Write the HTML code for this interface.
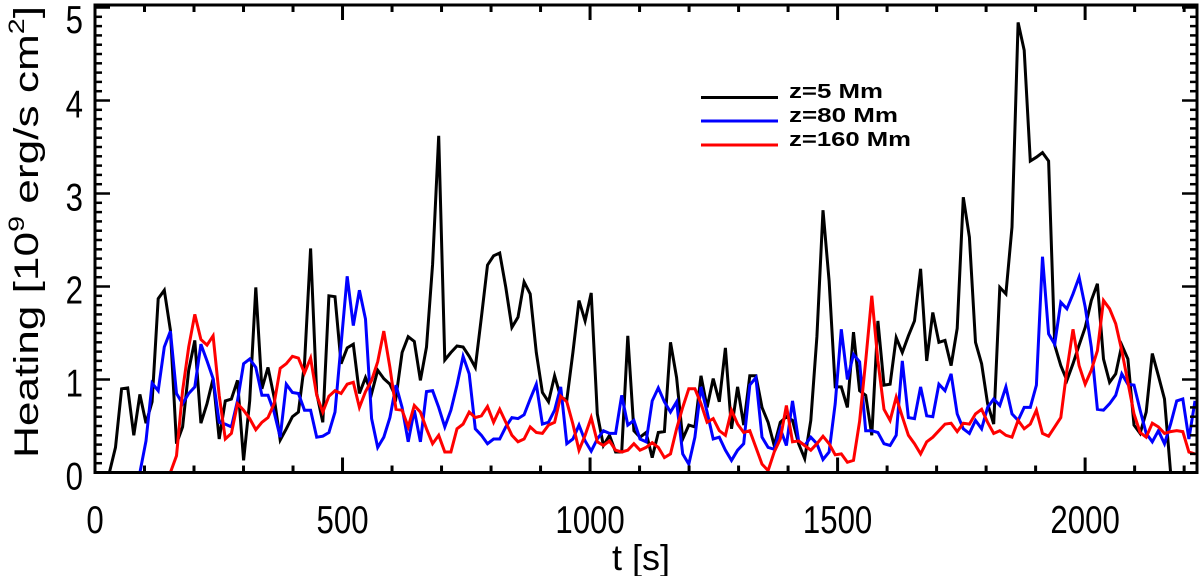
<!DOCTYPE html>
<html><head><meta charset="utf-8"><style>
html,body{margin:0;padding:0;background:#fff;}
svg{display:block;font-family:"Liberation Sans",sans-serif;}
</style></head><body>
<svg id="chart" width="1200" height="576" viewBox="0 0 1200 576" xmlns="http://www.w3.org/2000/svg">
<defs><clipPath id="plotclip"><rect x="95" y="5" width="1102" height="468"/></clipPath></defs>
<g id="series" clip-path="url(#plotclip)"></g>
<rect x="95" y="5" width="1102" height="467.5" fill="none" stroke="#000" stroke-width="3"/>
<g id="ticks"></g>
<g id="labels"></g>
<text x="641" y="570" font-size="36" text-anchor="middle">t  [s]</text>
<text transform="translate(38,232) rotate(-90)" font-size="34" text-anchor="middle" textLength="452" lengthAdjust="spacingAndGlyphs">Heating  [10<tspan font-size="22" dy="-14">9</tspan><tspan dy="14"> erg/s cm</tspan><tspan font-size="22" dy="-14">2</tspan><tspan dy="14">]</tspan></text>
<g>
<g><line x1="701" y1="97.5" x2="778" y2="97.5" stroke="#000" stroke-width="3"/><text x="789" y="98" font-size="20" font-weight="bold" textLength="94" lengthAdjust="spacingAndGlyphs">z=5  Mm</text></g>
<g><line x1="701" y1="121" x2="778" y2="121" stroke="#0000ff" stroke-width="3"/><text x="789" y="122" font-size="20" font-weight="bold" textLength="109" lengthAdjust="spacingAndGlyphs">z=80  Mm</text></g>
<g><line x1="701" y1="145" x2="778" y2="145" stroke="#ff0000" stroke-width="3"/><text x="789" y="146" font-size="20" font-weight="bold" textLength="122" lengthAdjust="spacingAndGlyphs">z=160  Mm</text></g>
</g>
</svg>
<script>
const sampleStart = 4.4;
const sampleStep = 12.32;
const seriesNames = ["z=5 Mm","z=80 Mm","z=160 Mm"];
const heatZ5 = [0,0,0,.27,.90,.91,.40,.84,.53,.76,1.87,1.96,1.53,.31,.49,1.10,1.42,.53,.74,1.01,.36,.77,.79,.99,.13,.77,1.99,.90,1.13,.81,.35,.47,.60,.65,1.17,2.41,.85,.54,1.90,1.89,1.17,1.34,1.38,.85,1.02,.85,1.10,1.01,.95,.81,1.29,1.46,1.41,.99,1.35,2.24,3.62,1.21,1.29,1.36,1.35,1.25,1.13,1.67,2.23,2.33,2.36,1.99,1.56,1.67,2.05,1.92,1.29,.86,.76,1.04,.81,.78,1.29,1.85,1.63,1.93,.63,.29,.40,.22,.22,1.47,.45,.38,.43,.16,.43,.44,1.40,1.02,.36,.51,.49,1.04,.70,1.01,.76,1.34,.47,.92,.51,1.04,1.04,.70,.54,.29,.54,.60,.56,.31,.15,.56,1.46,2.82,2.06,.92,.92,.70,1.51,.88,.83,.40,1.63,.94,.95,1.45,1.29,1.47,1.63,2.19,1.20,1.72,1.40,1.42,1.15,1.55,2.96,2.53,1.40,1.17,.74,.52,1.99,1.92,2.64,4.84,4.54,3.35,3.39,3.44,3.35,1.37,1.15,.99,1.17,1.37,1.56,1.85,2.03,1.22,.97,1.06,1.37,1.22,.51,.42,.65,1.28,1.04,.79,0,0,0,0,0];
const heatZ80 = [0,0,0,0,0,0,0,0,.34,.96,.88,1.35,1.52,.85,.74,.85,.92,1.38,1.20,1.01,.54,.52,.49,.77,1.17,1.22,1.13,.83,.83,.65,.38,.95,.86,.85,.67,.67,.38,.39,.43,.65,1.38,2.11,1.58,1.96,1.65,.58,.27,.38,.59,.94,.70,.33,.67,.33,.87,.88,.70,.49,.67,.94,1.25,1.06,.47,.40,.31,.36,.36,.49,.59,.58,.62,.79,.95,.52,.54,.67,.92,.31,.36,.51,.34,.23,.36,.45,.42,.42,.83,.51,.56,.36,.33,.77,.91,.76,.65,.76,.20,.09,.38,.92,.65,.36,.38,.24,.13,.24,.31,.94,1.02,.38,.27,.25,.47,.29,.77,.34,.29,.38,.31,.14,.22,.74,1.54,1.0,1.27,1.19,.45,.45,.43,.31,.29,.40,1.2,.59,.58,.92,.61,.60,.95,.88,1.06,.63,.47,.42,.56,.47,.70,.79,.72,.92,.63,.56,.70,.70,.94,2.32,1.49,1.38,1.83,1.76,1.92,2.10,1.78,1.35,.68,.67,.74,.83,1.06,.95,.94,.67,.42,.33,.45,.31,.52,.77,.79,.36,.77];
const heatZ160 = [0,0,0,0,0,0,0,0,0,0,0,0,0,.18,.88,1.35,1.70,1.43,1.37,1.47,.83,.36,.42,.74,.67,.58,.46,.54,.59,.74,1.12,1.17,1.25,1.23,1.07,1.23,.83,.65,.82,.88,.85,.95,.97,.70,.87,.99,1.19,1.52,1.13,.68,.67,.49,.72,.65,.47,.31,.40,.22,.22,.47,.52,.65,.59,.61,.71,.54,.68,.54,.40,.33,.36,.49,.43,.42,.51,.54,.82,.76,.52,.24,.40,.59,.33,.29,.34,.24,.22,.24,.31,.24,.27,.32,.27,.16,.20,.47,.70,.90,.90,.74,.54,.58,.45,.40,.67,.52,.43,.45,.27,.09,.02,.22,.36,.72,.33,.34,.29,.24,.31,.39,.31,.19,.20,.11,.13,.55,1.2,1.90,1.2,.68,.56,.81,.6,.40,.31,.20,.33,.38,.45,.52,.53,.44,.53,.52,.63,.68,.54,.42,.45,.40,.38,.56,.47,.52,.67,.42,.39,.49,.59,1.10,1.54,1.15,.95,1.10,1.31,1.85,1.76,1.60,1.31,.97,.63,.43,.38,.53,.49,.42,.44,.45,.44,.22,.20];
const xTickLabels = ["0","500","1000","1500","2000"];
const xTickValues = [0,500,1000,1500,2000];
const yTickLabels = ["0","1","2","3","4","5"];
const yTickValues = [0,1,2,3,4,5];

const NS="http://www.w3.org/2000/svg";
const L=95,R=1197,T=5,B=472.5, XMAX=2226, YMAX=5.027;
const xs=t=>L+(t/XMAX)*(R-L);
const ys=v=>B-(v/YMAX)*(B-T);
function mk(tag,attrs,parent){const e=document.createElementNS(NS,tag);for(const k in attrs)e.setAttribute(k,attrs[k]);parent.appendChild(e);return e;}

const sg=document.getElementById('series');
const colors=["#000000","#0000ff","#ff0000"];
const slugs=["series-z5","series-z80","series-z160"];
[heatZ5,heatZ80,heatZ160].forEach((arr,si)=>{
  const pts=arr.map((v,i)=>xs(sampleStart+i*sampleStep).toFixed(1)+","+ys(v).toFixed(1)).join(" ");
  const pl=mk('polyline',{points:pts,fill:"none",stroke:colors[si],"stroke-width":3,"stroke-linejoin":"miter"},sg);
  
  
});

const tg=document.getElementById('ticks');
for(let t=0;t<=2200;t+=100){
  const major=t%500===0, len=major?15:7, x=xs(t);
  const a=mk('line',{x1:x,y1:B,x2:x,y2:B-len,stroke:"#000","stroke-width":3},tg);
  
  
  const b=mk('line',{x1:x,y1:T,x2:x,y2:T+len,stroke:"#000","stroke-width":3},tg);
  
  
}
for(let k=0;k<=50;k++){
  const v=k/10, major=k%10===0, len=major?15:7, y=ys(v);
  const a=mk('line',{x1:L,y1:y,x2:L+len,y2:y,stroke:"#000","stroke-width":2.5},tg);
  
  
  const b=mk('line',{x1:R,y1:y,x2:R-len,y2:y,stroke:"#000","stroke-width":2.5},tg);
  
  
}

const lg=document.getElementById('labels');
xTickValues.forEach((t,i)=>{
  const g=mk('g',{transform:`translate(${xs(t)},533) scale(0.8,1)`},lg);
  const tx=mk('text',{"font-size":39,"text-anchor":"middle"},g);
  tx.textContent=xTickLabels[i];
  
  
});
yTickValues.forEach((v,i)=>{
  const by = v===5 ? 33 : ys(v)+17;
  const g=mk('g',{transform:`translate(83,${by}) scale(0.8,1)`},lg);
  const tx=mk('text',{"font-size":39,"text-anchor":"end"},g);
  tx.textContent=yTickLabels[i];
  
  
});
</script>
</body></html>
